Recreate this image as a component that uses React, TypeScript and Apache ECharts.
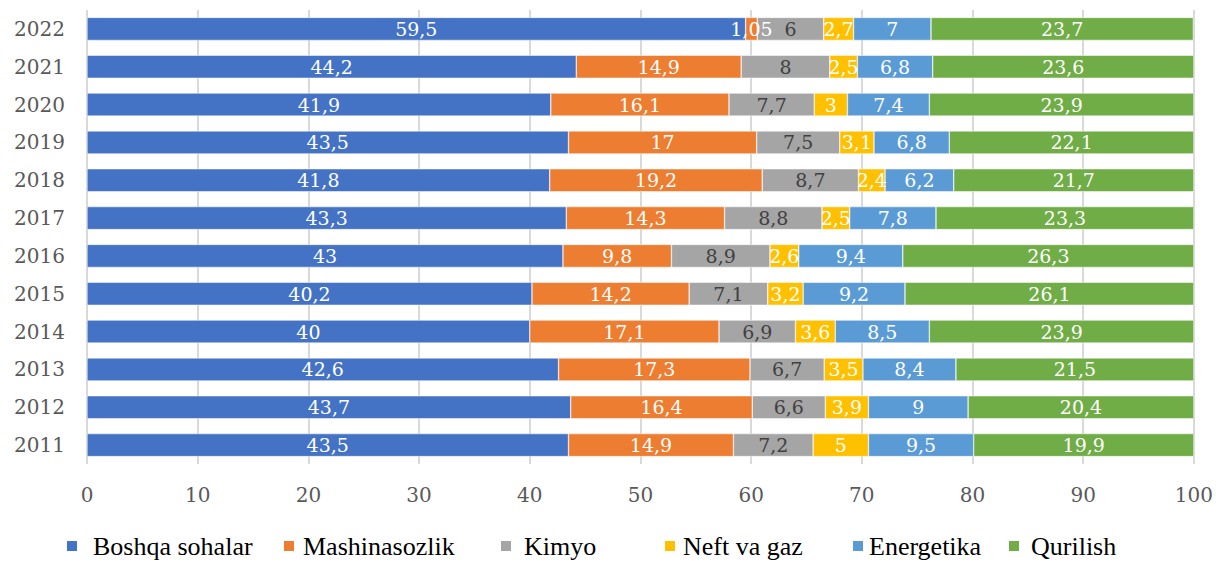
import React, { useEffect, useRef } from "react";
import * as echarts from "echarts";

const years = ["2011", "2012", "2013", "2014", "2015", "2016", "2017", "2018", "2019", "2020", "2021", "2022"];
const seriesNames = ["Boshqa sohalar", "Mashinasozlik", "Kimyo", "Neft va gaz", "Energetika", "Qurilish"];
// values listed 2011 -> 2022
const boshqa = [43.5, 43.7, 42.6, 40, 40.2, 43, 43.3, 41.8, 43.5, 41.9, 44.2, 59.5];
const mashina = [14.9, 16.4, 17.3, 17.1, 14.2, 9.8, 14.3, 19.2, 17, 16.1, 14.9, 1.05];
const kimyo = [7.2, 6.6, 6.7, 6.9, 7.1, 8.9, 8.8, 8.7, 7.5, 7.7, 8, 6];
const neft = [5, 3.9, 3.5, 3.6, 3.2, 2.6, 2.5, 2.4, 3.1, 3, 2.5, 2.7];
const energetika = [9.5, 9, 8.4, 8.5, 9.2, 9.4, 7.8, 6.2, 6.8, 7.4, 6.8, 7];
const qurilish = [19.9, 20.4, 21.5, 23.9, 26.1, 26.3, 23.3, 21.7, 22.1, 23.9, 23.6, 23.7];
const xTicks = [0, 10, 20, 30, 40, 50, 60, 70, 80, 90, 100];

const colors = ["#4472C4", "#ED7D31", "#A5A5A5", "#FFC000", "#5B9BD5", "#70AD47"];
const labelColors = ["#FFFFFF", "#FFFFFF", "#404040", "#FFFFFF", "#FFFFFF", "#FFFFFF"];
const legendLefts = [65, 282, 499, 663, 851, 1007];
const legendTextPad = [10, 3, 7, 2, 0, 6];

export default function App() {
  const ref = useRef<HTMLDivElement>(null);
  useEffect(() => {
    if (!ref.current) return;
    const chart = echarts.init(ref.current, undefined, { renderer: "svg" });
    const allData = [boshqa, mashina, kimyo, neft, energetika, qurilish];
    const option: any = {
      animation: false,
      backgroundColor: "#FFFFFF",
      grid: { left: 87, right: 22, top: 10, bottom: 98, containLabel: false },
      xAxis: {
        type: "value",
        min: xTicks[0],
        max: xTicks[xTicks.length - 1],
        interval: 10,
        axisLine: { show: false },
        axisTick: { show: false },
        splitLine: { show: true, lineStyle: { color: "#D9D9D9", width: 2 } },
        axisLabel: { color: "#595959", fontSize: 20, fontFamily: "DejaVu Serif", margin: 21 },
      },
      yAxis: {
        type: "category",
        data: years,
        axisLine: { show: false },
        axisTick: { show: false },
        axisLabel: { color: "#595959", fontSize: 20, fontFamily: "DejaVu Serif", margin: 22 },
      },
      legend: seriesNames.map((n, i) => ({
        data: [n],
        left: legendLefts[i],
        top: 533,
        padding: 0,
        itemWidth: 12,
        itemHeight: 12,
        itemGap: 0,
        icon: "rect",
        formatter: (name: string) => "{t|" + name + "}",
        textStyle: {
          color: "#000000",
          fontSize: 26,
          lineHeight: 26,
          fontFamily: "Liberation Serif",
          rich: {
            t: {
              color: "#000000",
              fontSize: 26,
              lineHeight: 26,
              fontFamily: "Liberation Serif",
              padding: [0, 0, 0, legendTextPad[i]],
            },
          },
        },
      })),
      series: seriesNames.map((n, i) => ({
        name: n,
        type: "bar",
        stack: "total",
        barWidth: 23,
        data: allData[i],
        itemStyle: { color: colors[i], borderColor: "#FFFFFF", borderWidth: 0.5 },
        label: {
          show: true,
          position: "inside",
          color: labelColors[i],
          fontSize: 19,
          fontFamily: "DejaVu Serif",
          formatter: (p: any) => String(p.value).replace(".", ","),
        },
      })),
    };
    chart.setOption(option);
    return () => chart.dispose();
  }, []);
  return (
    <div
      ref={ref}
      style={{ position: "fixed", left: 0, top: 0, width: 1216, height: 562 }}
    />
  );
}
